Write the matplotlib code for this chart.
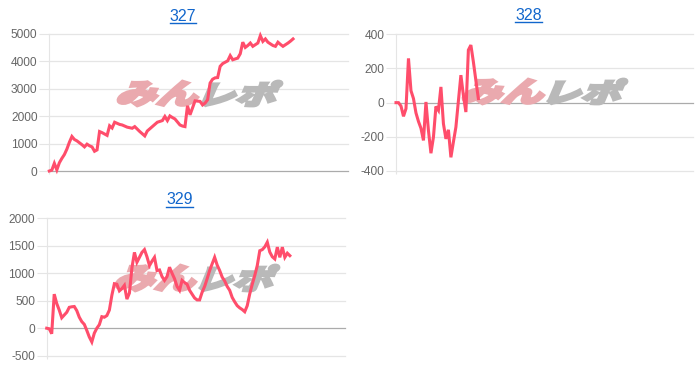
import matplotlib
matplotlib.use('Agg')
import matplotlib.pyplot as plt
from matplotlib.textpath import TextPath
from matplotlib.patches import PathPatch
from matplotlib.font_manager import FontProperties
from matplotlib.transforms import Affine2D, IdentityTransform
from matplotlib.lines import Line2D

W, H, DPI = 700, 372, 100

# ---------------- data ----------------
titles = ["327", "328", "329"]
n_slots = 120  # number of category positions on the x axis

s327 = [0, 30, 280, 40, 300, 460, 600, 800, 1050, 1260,
        1150, 1100, 1030, 960, 880, 980, 920, 880, 720, 770,
        1440, 1400, 1350, 1300, 1650, 1570, 1780, 1740, 1700, 1680,
        1640, 1600, 1580, 1560, 1620, 1530, 1440, 1360, 1280, 1460,
        1540, 1620, 1700, 1780, 1810, 1840, 1990, 1840, 2010, 1950,
        1900, 1790, 1680, 1640, 1620, 2380, 2050, 2300, 2560, 2550,
        2540, 2410, 2480, 2600, 3210, 3350, 3400, 3410, 3820, 3920,
        3970, 4020, 4210, 4060, 4090, 4120, 4280, 4700, 4510, 4580,
        4670, 4550, 4610, 4670, 4940, 4730, 4820, 4700, 4640, 4580,
        4550, 4700, 4620, 4550, 4610, 4670, 4740, 4820]

s328 = [0, 0, -20, -80, -35, 259, 70, 24, -60, -110,
        -150, -221, 4, -163, -296, -202, -22, -45, 92, -123,
        -212, -159, -320, -230, -143, 10, 161, 43, -55, 308,
        337, 239, 130, 24]

s329 = [0, -10, -100, 620, 450, 330, 190, 240, 290, 380,
        390, 395, 320, 200, 120, 70, -40, -160, -250, -90,
        0, 65, 210, 200, 230, 330, 600, 810, 800, 680,
        720, 780, 530, 640, 1100, 1380, 1200, 1290, 1380, 1430,
        1300, 1140, 1220, 1290, 1050, 1060, 940, 870, 940, 1110,
        1000, 900, 760, 690, 870, 830, 800, 690, 620, 550,
        515, 515, 655, 760, 900, 1050, 1170, 1290, 1150, 1050,
        930, 860, 760, 690, 560, 480, 410, 370, 340, 300,
        410, 625, 800, 960, 1140, 1410, 1430, 1480, 1565, 1385,
        1300, 1260, 1475, 1290, 1475, 1290, 1365, 1320]

yticks327 = [0, 1000, 2000, 3000, 4000, 5000]
yticks328 = [-400, -200, 0, 200, 400]
yticks329 = [-500, 0, 500, 1000, 1500, 2000]

# ---------------- style ----------------
LINE = '#ff4d6b'
GRID = '#e5e5e5'
ZERO = '#ababab'
TICKC = '#666666'
TITLEC = '#1166cc'
WM_PINK = '#eaa9ae'
WM_GRAY = '#b9b9b9'
FONT = 'Liberation Sans'

fig = plt.figure(figsize=(W / DPI, H / DPI), dpi=DPI)
fig.patch.set_facecolor('white')


def rect(l, t, r, b):
    return [l / W, 1 - b / H, (r - l) / W, (b - t) / H]


def word(ax, text, color, x0, x1, ytop, ybot):
    tp = TextPath((0, 0), text, size=40,
                  prop=FontProperties(family='Noto Sans CJK JP', weight='black'))
    p = Affine2D().skew_deg(16, 0).transform_path(tp)
    bb = p.get_extents()
    t = (Affine2D().translate(-bb.x0, -bb.y0)
         .scale((x1 - x0 - 2) / bb.width, (ybot - ytop - 2) / bb.height)
         .translate(x0 + 1, H - ybot + 1))
    patch = PathPatch(t.transform_path(p), facecolor=color, edgecolor=color,
                      linewidth=2.0, joinstyle='miter',
                      transform=IdentityTransform(), zorder=1.5, clip_on=False)
    ax.add_artist(patch)


panels = [
    dict(title=titles[0], data=s327, ticks=yticks327, box=(49.3, 34, 348.3, 171),
         tx=182.8, tb=20.7, ul=22.6, wm=(117, 200, 283, 80, 107)),
    dict(title=titles[1], data=s328, ticks=yticks328, box=(396, 34.3, 693, 171),
         tx=528.5, tb=20.2, ul=22.3, wm=(462, 546, 628, 78, 105)),
    dict(title=titles[2], data=s329, ticks=yticks329, box=(46.7, 218.3, 345, 355.7),
         tx=179.5, tb=204.4, ul=206.5, wm=(115, 198, 280, 264, 292)),
]

title_texts = []
for pnl in panels:
    ax = fig.add_axes(rect(*pnl['box']))
    ax.set_facecolor('none')
    ticks = pnl['ticks']
    ax.set_ylim(ticks[0], ticks[-1])
    ax.set_xlim(0, n_slots - 1)
    for sp in ax.spines.values():
        sp.set_visible(False)
    ax.spines['left'].set_visible(True)
    ax.spines['left'].set_color(GRID)
    ax.spines['left'].set_linewidth(0.8)
    ax.set_yticks(ticks)
    ax.set_yticklabels([str(v) for v in ticks], fontsize=8.6, color=TICKC, family=FONT)
    ax.tick_params(axis='y', length=7, width=0.8, color=GRID, pad=1.5)
    ax.set_xticks([0])
    ax.set_xticklabels([''])
    ax.tick_params(axis='x', length=2.5, width=0.8, color=GRID)
    for v in ticks:
        ax.axhline(v, color=ZERO if v == 0 else GRID, lw=0.9, zorder=0.5,
                   clip_on=False)
    x = list(range(len(pnl['data'])))
    ax.plot(x, pnl['data'], color=LINE, lw=2.2, solid_joinstyle='miter',
            zorder=3, clip_on=False)
    x0, xm, x1, yt, yb = pnl['wm']
    word(ax, 'みん', WM_PINK, x0, xm - 1, yt, yb)
    word(ax, 'レポ', WM_GRAY, xm + 1, x1, yt, yb)
    t = fig.text(pnl['tx'] / W, 1 - pnl['tb'] / H, pnl['title'], ha='center',
                 va='baseline', fontsize=11.5, color=TITLEC, family=FONT)
    title_texts.append((t, pnl['ul']))

fig.canvas.draw()
r = fig.canvas.get_renderer()
for t, ul in title_texts:
    bb = t.get_window_extent(r)
    fig.add_artist(Line2D([bb.x0, bb.x1], [H - ul, H - ul], color=TITLEC, lw=1.0,
                          transform=IdentityTransform()))

fig.savefig('out.png', dpi=DPI, facecolor='white')
